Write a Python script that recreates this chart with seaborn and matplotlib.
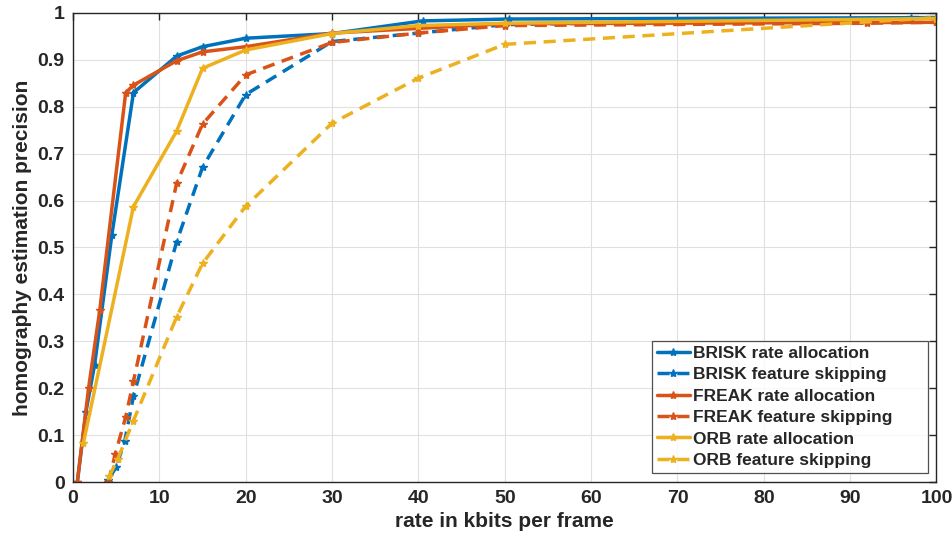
import pandas as pd
import matplotlib
matplotlib.use('Agg')
import matplotlib.pyplot as plt
import seaborn as sns

# ── Data ─────────────────────────────────────────────────────
brisk_rate_x = [0.5, 1.5, 2.5, 4.5, 7, 12, 15, 20, 30, 40.5, 50.5, 100]
brisk_rate_y = [0.0, 0.15, 0.25, 0.527, 0.83, 0.908, 0.928, 0.946, 0.956, 0.983, 0.987, 0.99]

brisk_skip_x = [4.1, 5, 6, 7, 12, 15, 20, 30, 40, 50, 97, 100]
brisk_skip_y = [0.005, 0.032, 0.088, 0.183, 0.512, 0.671, 0.826, 0.939, 0.957, 0.975, 0.99, 0.99]

freak_rate_x = [0.5, 1.8, 3.1, 6.1, 7, 12, 15, 20, 30, 40, 50, 100]
freak_rate_y = [0.0, 0.2, 0.367, 0.83, 0.846, 0.898, 0.917, 0.928, 0.957, 0.967, 0.977, 0.98]

freak_skip_x = [4.1, 4.9, 6.1, 7, 12, 15, 20, 30, 40, 50, 92, 100]
freak_skip_y = [0.0, 0.06, 0.139, 0.215, 0.637, 0.763, 0.868, 0.937, 0.957, 0.973, 0.978, 0.98]

orb_rate_x = [1.2, 7, 12, 15, 20, 30, 40, 50, 100]
orb_rate_y = [0.083, 0.587, 0.748, 0.882, 0.921, 0.956, 0.973, 0.978, 0.988]

orb_skip_x = [4.2, 5.2, 7, 12, 15, 20, 30, 40, 50, 100]
orb_skip_y = [0.012, 0.05, 0.131, 0.352, 0.466, 0.588, 0.765, 0.861, 0.933, 0.99]

labels = ['BRISK rate allocation', 'BRISK feature skipping',
          'FREAK rate allocation', 'FREAK feature skipping',
          'ORB rate allocation', 'ORB feature skipping']
xs = [brisk_rate_x, brisk_skip_x, freak_rate_x, freak_skip_x, orb_rate_x, orb_skip_x]
ys = [brisk_rate_y, brisk_skip_y, freak_rate_y, freak_skip_y, orb_rate_y, orb_skip_y]

BLUE, ORANGE, YELLOW = '#0072BD', '#D95319', '#EDB120'
palette = dict(zip(labels, [BLUE, BLUE, ORANGE, ORANGE, YELLOW, YELLOW]))
dashes = dict(zip(labels, ['', (3.5, 2.2)] * 3))
markers = dict(zip(labels, ['*'] * 6))

df = pd.concat([pd.DataFrame({'rate': x, 'precision': y, 'series': lab})
                for x, y, lab in zip(xs, ys, labels)], ignore_index=True)

# ── Plot ─────────────────────────────────────────────────────
sns.set_style('white')
plt.rcParams['font.family'] = ['Liberation Sans', 'DejaVu Sans']
plt.rcParams['font.weight'] = 'bold'

fig = plt.figure(figsize=(9.52, 5.38), dpi=100)
ax = fig.add_axes([0.0767, 0.104, 0.907, 0.872])

sns.lineplot(data=df, x='rate', y='precision', hue='series', style='series',
             hue_order=labels, style_order=labels, palette=palette,
             dashes=dashes, markers=markers, markersize=6,
             markeredgewidth=1.0, linewidth=2.5, ax=ax, estimator=None)

for ln in ax.lines:
    ln.set_markeredgecolor(ln.get_color())

ax.set_xlim(0, 100)
ax.set_ylim(0, 1)
ax.set_xticks(range(0, 101, 10))
ax.set_yticks([i / 10 for i in range(11)])
ax.set_yticklabels(['0'] + [f'{i/10:.1f}' for i in range(1, 10)] + ['1'])
ax.grid(True, color='#e0e0e0', linewidth=0.8)
ax.set_axisbelow(True)
ax.tick_params(direction='in', length=5, width=1, top=True, right=True,
               labelsize=14, colors='#262626', pad=6)
for lab in ax.get_xticklabels() + ax.get_yticklabels():
    lab.set_fontweight('bold')
for sp in ax.spines.values():
    sp.set_color('#262626')
    sp.set_linewidth(1.0)

ax.set_xlabel('rate in kbits per frame', fontsize=15, fontweight='bold', labelpad=3)
ax.set_ylabel('homography estimation precision', fontsize=15, fontweight='bold', labelpad=4)

handles, hl = ax.get_legend_handles_labels()
for h in handles:
    h.set_markeredgecolor(h.get_color())
leg = ax.legend(handles, hl, loc='lower left', bbox_to_anchor=(0.670, 0.019, 0.3196, 0.284),
                mode='expand', borderaxespad=0, fontsize=12.5, frameon=True,
                fancybox=False, edgecolor='#262626',
                handlelength=1.9, handletextpad=0.2, labelspacing=0.36,
                borderpad=0.3)
leg.get_frame().set_linewidth(0.9)
for t in leg.get_texts():
    t.set_fontweight('bold')

fig.savefig('out.png', dpi=100)
